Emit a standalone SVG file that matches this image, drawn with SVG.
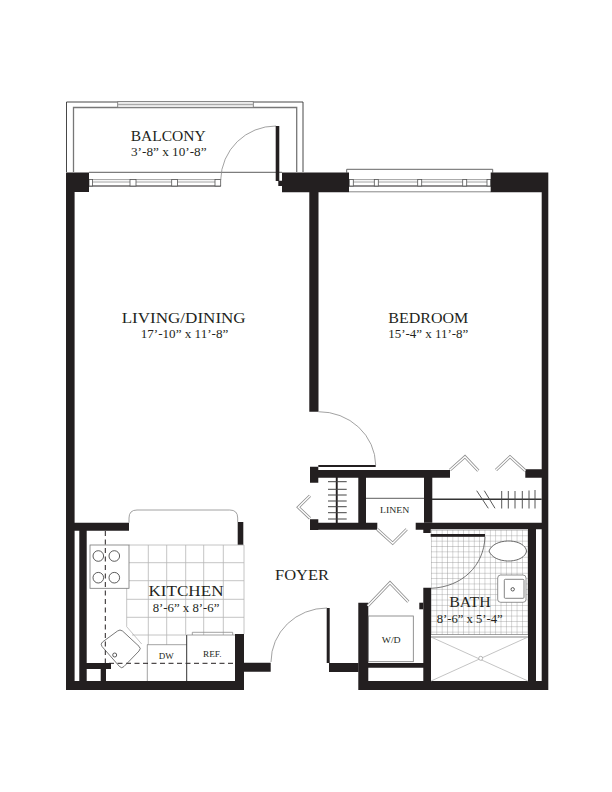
<svg xmlns="http://www.w3.org/2000/svg" width="612" height="792" viewBox="0 0 612 792">
<style>
.w{fill:#231f20;stroke:none}
.g{fill:none;stroke:#8a8a8a;stroke-width:.8}
.l{fill:none;stroke:#b5b5b5;stroke-width:.8}
.d{fill:none;stroke:#333;stroke-width:.8}
.da{fill:none;stroke:#231f20;stroke-width:1;stroke-dasharray:5 3.5}
.b1{fill:none;stroke:#8f8f8f;stroke-width:3}
.b2{fill:none;stroke:#fff;stroke-width:1.4}
.m{fill:#fff;stroke:#555;stroke-width:.8}
text{font-family:"Liberation Serif","Times New Roman",serif;fill:#231f20;text-anchor:start}
.t{font-size:15.5px}
.s{font-size:13px}
.x{font-size:9px}
</style>
<defs>
<pattern id="tile" x="431" y="530" width="5.35" height="5.35" patternUnits="userSpaceOnUse">
<path d="M0 0H5.35M0 0V5.35" fill="none" stroke="#8a8a8a" stroke-width=".7"/>
</pattern>
</defs>
<rect width="612" height="792" fill="#fff"/>

<g id="bath-floor">
<rect x="431" y="530" width="97" height="105" fill="url(#tile)"/>
</g>

<g id="balcony">
<path d="M66.5 172V102H303V172" fill="none" stroke="#333" stroke-width=".9"/>
<path d="M73.5 172V107.5H296.7V172" fill="none" stroke="#777" stroke-width="1.3"/>
<rect x="117.7" y="101.7" width="135.6" height="5.6" fill="#fff" stroke="#777" stroke-width=".9"/>
<rect x="118" y="103.7" width="135" height="1.6" fill="#aaa"/>
<path d="M89 172.3H282" class="d"/>
<path d="M89 179.6H220.7M89 182H220.7" class="g"/>
<path d="M89 186H220.7" fill="none" stroke="#231f20" stroke-width="1"/>
<rect x="89" y="179.5" width="3.6" height="6.5" class="m"/>
<rect x="130" y="179.5" width="6" height="6.5" class="m"/>
<rect x="171.7" y="179.5" width="5.7" height="6.5" class="m"/>
<rect x="215" y="179.5" width="5.7" height="6.5" class="m"/>
<path d="M276 126A55 55 0 0 0 220.7 180" class="g"/>
<rect x="275.7" y="126" width="3.6" height="55" class="w"/>
</g>

<g id="bedroom-window">
<path d="M346.7 172.7V169.3H492.7V172.7" fill="none" stroke="#555" stroke-width=".9"/>
<path d="M349 179.6H491M349 182H491" class="g"/>
<path d="M349 186H491" fill="none" stroke="#231f20" stroke-width="1"/>
<path d="M349 191.8H491" fill="none" stroke="#888" stroke-width="1"/>
<rect x="349.3" y="179.5" width="4" height="6.5" class="m"/>
<rect x="374.3" y="179.5" width="4" height="6.5" class="m"/>
<rect x="417.7" y="179.5" width="4" height="6.5" class="m"/>
<rect x="462.7" y="179.5" width="4" height="6.5" class="m"/>
<rect x="487" y="179.5" width="3.7" height="6.5" class="m"/>
</g>

<g id="walls">
<path class="w" d="M66 172.5H89V192H74.6V690H66Z"/>
<path class="w" d="M282 172.5H349V192.3H318.5V411.7H309.3V192.3H282V186H278.3V180.7H282Z"/>
<path class="w" d="M490.7 172.5H548.3V690H358.3V602.7H368.3V663H423.3V587.7H431V681H528V529.3H430.7V533H423.3V529.8H415.7V522.7H541.7V477.7H525.3V469.3H541.7V192.3H490.7ZM536 529.3V681H541.7V529.3ZM368.3 667.7V681H423.3V667.7Z" fill-rule="evenodd"/>
<rect class="w" x="419.3" y="602.7" width="4" height="6.6"/>
<path class="w" d="M310 466.7H318.3V470H450V477.7H432.3V522.7H424V477.7H366V522.7H377.3V529.7H318.3V530H310V519.3H318.3V522.7H358.3V477.7H318.3V482.7H310Z"/>
<rect class="w" x="318.3" y="465" width="57.4" height="2"/>
<rect class="w" x="430.7" y="534" width="54.3" height="2.8"/>
<path class="w" fill-rule="evenodd" d="M74 522.7H129V530.7H86.7V663H111V669H106V681H235V634H244V662.7H270.7V671.7H244V690H66V681H79.3V530.7H74ZM86.7 669V681H100.7V669Z"/>
<rect class="w" x="237.7" y="522" width="5.6" height="23"/>
<rect class="w" x="326.7" y="608" width="3" height="55"/>
<rect class="w" x="329" y="663" width="29.5" height="9"/>
</g>

<g id="doors">
<path d="M318.3 411.7A57 54 0 0 1 375.7 465" class="g"/>
<path d="M271 662A56 54 0 0 1 327 608" class="g"/>
<path d="M485 536.7C484 566 462 587 431 588.3" fill="none" stroke="#555" stroke-width=".8"/>
<path class="b1" d="M450 470L465 456.7L478.3 470.7"/>
<path class="b2" d="M450 470L465 456.7L478.3 470.7"/>
<path class="b1" d="M496 470L510 456.7L525.3 470.7"/>
<path class="b2" d="M496 470L510 456.7L525.3 470.7"/>
<path class="b1" d="M310 495.7L298.3 507.3L310 518.3"/>
<path class="b2" d="M310 495.7L298.3 507.3L310 518.3"/>
<path class="b1" d="M377.3 529.3L392.7 543.3L406.7 529.3"/>
<path class="b2" d="M377.3 529.3L392.7 543.3L406.7 529.3"/>
<path class="b1" d="M367.7 606L390 582.7L408.3 601.7"/>
<path class="b2" d="M367.7 606L390 582.7L408.3 601.7"/>
</g>

<g id="closets">
<rect class="w" x="335.8" y="477" width="1.9" height="46"/>
<path d="M328 481.7H346.7M328 489.3H346.7M328 495H346.7M328 501H346.7M328 506.7H346.7M328 512.7H346.7M328 519H346.7" fill="none" stroke="#444" stroke-width="1"/>
<path d="M366 498.3H424" class="d"/>
<path d="M432 499.3H541.7" fill="none" stroke="#333" stroke-width="1.6"/>
<path d="M476.7 490.7L488.3 508.3M484.3 490.7L495 508.3M501.7 491V508.5M508.3 491V508.5M515 491V508.5M522.3 491V508.5M529 490.5V508.5M535 490V508.5" fill="none" stroke="#444" stroke-width=".9"/>
</g>

<g id="kitchen">
<path d="M129 522.7V518Q129 510 137 510H229.7Q237.7 510 237.7 518V522" class="g"/>
<path class="l" d="M129 545H244V634M126.7 562.7H244M126.7 580.7H244M126.7 599.3H244M126.7 617.3H244M132 635H186.7M148.3 545V644.7M166.7 545V644.7M185.7 545V635M203.7 545V635M223.3 545V635M126.7 588V626.7L141.7 644"/>
<path class="g" d="M147 644.7H186.7M147.3 644.7V681"/>
<rect x="90" y="545" width="39" height="43.3" fill="#fff" stroke="#777" stroke-width=".8"/>
<circle cx="98.3" cy="556" r="5.3" class="d"/>
<circle cx="114.3" cy="556" r="5.3" class="d"/>
<circle cx="98.3" cy="577.7" r="5.3" class="d"/>
<circle cx="114.3" cy="577.7" r="5.3" class="d"/>
<path d="M105.3 531V663.3H233" class="da"/>
<path d="M122.5 631L139 646.3Q141.5 648.5 139 651L124 666.5Q121.7 669 119.5 666.5L102 646.5Q100 644 102.5 642L117.5 631Q120 629 122.5 631Z" fill="none" stroke="#555" stroke-width=".8"/>
<circle cx="114.7" cy="655" r="2" class="d"/>
<path d="M186.7 635V681" fill="none" stroke="#333" stroke-width="1"/>
<path d="M186.7 635H235" class="g"/>
<path d="M192.3 635V632.3H232.7V635" class="g"/>
</g>

<g id="bath-fixtures">
<path d="M489 551C494 538 521 538 526 549Q527 551 526 553C521 564 494 564 489 551Z" fill="#fff" stroke="#444" stroke-width=".8"/>
<rect x="497.7" y="575" width="28.3" height="27.3" rx="3" fill="#fff" stroke="#777" stroke-width=".8"/>
<rect x="504.3" y="579.3" width="19.7" height="19" rx="1" fill="#fff" stroke="#666" stroke-width=".8"/>
<circle cx="512.7" cy="589.3" r="1.7" class="d"/>
<path d="M431 634.5H528" class="g"/>
<path d="M431 637H528" fill="none" stroke="#888" stroke-width="1"/>
<path d="M431 637L528 681M431 681L528 637" class="l"/>
<circle cx="480.7" cy="658.3" r="2" fill="#fff" stroke="#999" stroke-width=".7"/>
<rect x="368.3" y="616" width="45" height="45.7" fill="none" stroke="#777" stroke-width=".8"/>
</g>

<g id="labels">
<text class="t" x="130.7" y="140.7" textLength="75" lengthAdjust="spacingAndGlyphs">BALCONY</text>
<text class="s" x="131" y="156.3" textLength="75.5" lengthAdjust="spacingAndGlyphs">3’-8” x 10’-8”</text>
<text class="t" x="121.7" y="323.3" textLength="124" lengthAdjust="spacingAndGlyphs">LIVING/DINING</text>
<text class="s" x="140.7" y="337.7" textLength="87.6" lengthAdjust="spacingAndGlyphs">17’-10” x 11’-8”</text>
<text class="t" x="388.3" y="323.3" textLength="80" lengthAdjust="spacingAndGlyphs">BEDROOM</text>
<text class="s" x="388.3" y="337.7" textLength="80" lengthAdjust="spacingAndGlyphs">15’-4” x 11’-8”</text>
<text class="t" x="148.5" y="596" textLength="75" lengthAdjust="spacingAndGlyphs">KITCHEN</text>
<text class="s" x="152.7" y="611.5" textLength="66.7" lengthAdjust="spacingAndGlyphs">8’-6” x 8’-6”</text>
<text class="t" x="275" y="580" textLength="54" lengthAdjust="spacingAndGlyphs">FOYER</text>
<text class="t" x="449.3" y="606.7" textLength="41.4" lengthAdjust="spacingAndGlyphs">BATH</text>
<text class="s" x="436.7" y="622.7" textLength="66" lengthAdjust="spacingAndGlyphs">8’-6” x 5’-4”</text>
<text class="x" x="380" y="512.7" textLength="29.3" lengthAdjust="spacingAndGlyphs">LINEN</text>
<text class="x" x="381.7" y="642.7" textLength="19" lengthAdjust="spacingAndGlyphs">W/D</text>
<text class="x" x="158.7" y="659" textLength="15" lengthAdjust="spacingAndGlyphs">DW</text>
<text class="x" x="203" y="657" textLength="18.5" lengthAdjust="spacingAndGlyphs">REF.</text>
</g>
</svg>
